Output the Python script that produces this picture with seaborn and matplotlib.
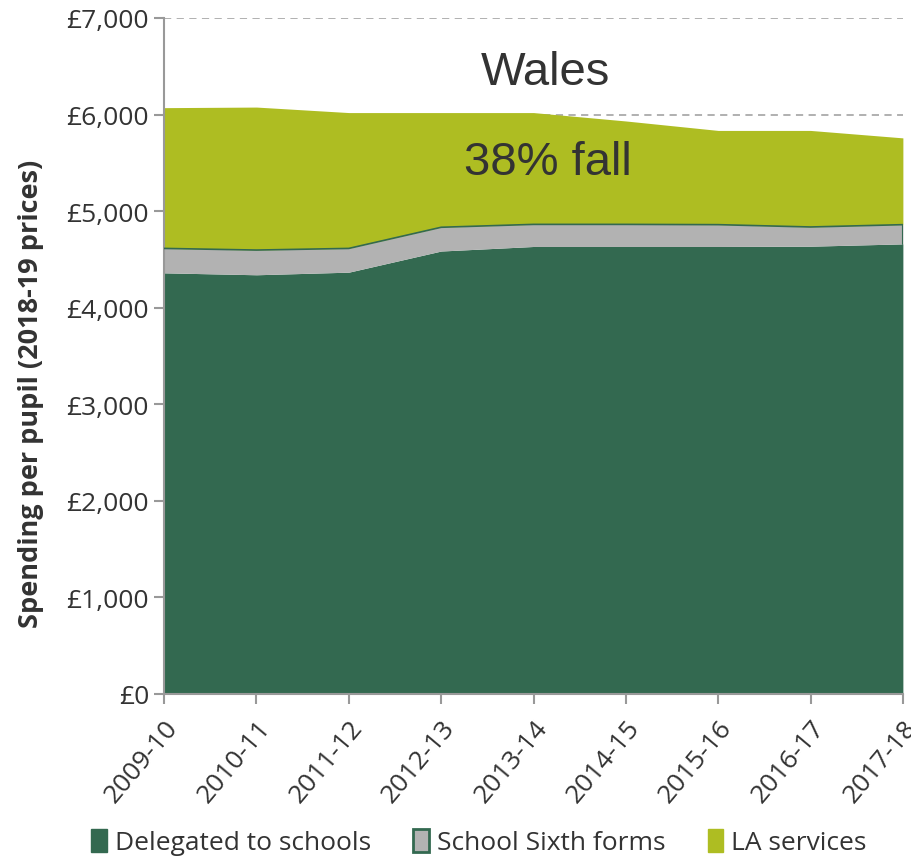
import numpy as np
import pandas as pd
import matplotlib
matplotlib.use("Agg")
import matplotlib.pyplot as plt
import seaborn as sns
from matplotlib.patches import Patch
from matplotlib.ticker import FuncFormatter

years = ["2009-10", "2010-11", "2011-12", "2012-13", "2013-14",
         "2014-15", "2015-16", "2016-17", "2017-18"]
delegated = [4360, 4340, 4367, 4586, 4633, 4633, 4633, 4636, 4660]
sixth_forms = [253, 256, 246, 246, 229, 229, 226, 199, 199]
la_services = [1458, 1481, 1407, 1188, 1158, 1071, 976, 1000, 899]

df = pd.DataFrame({"year": years, "Delegated to schools": delegated,
                   "School Sixth forms": sixth_forms, "LA services": la_services})

c_del = "#336950"
c_six = "#B2B2B2"
c_la = "#AEBD22"

sns.set_theme(style="white")
plt.rcParams["font.family"] = ["Open Sans", "DejaVu Sans"]

fig = plt.figure(figsize=(9.12, 8.62), dpi=100)
ax = fig.add_axes([0.18, 0.194, 0.81, 0.784])

x = np.arange(len(df))
ax.set_axisbelow(True)
ax.yaxis.grid(True, color="#AAAAAA", linestyle=(0, (4, 3)), linewidth=1.3)
ax.stackplot(x, df["Delegated to schools"], df["School Sixth forms"], df["LA services"],
             colors=[c_del, c_six, c_la], linewidth=0, zorder=2)

# thin dark edges on the sixth form band
base = df["Delegated to schools"] + df["School Sixth forms"]
sns.lineplot(x=x, y=base.values, ax=ax, color=c_del, linewidth=1.2, zorder=3)
ax.plot([x[-1], x[-1]], [df["Delegated to schools"].iloc[-1], base.iloc[-1]],
        color=c_del, linewidth=1.5, zorder=3)

ax.set_xlim(0, len(df) - 1)
ax.set_ylim(0, 7000)
ax.set_yticks(np.arange(0, 7001, 1000))
ax.yaxis.set_major_formatter(FuncFormatter(lambda v, p: "£{:,.0f}".format(v)))
ax.set_xticks(x)
ax.set_xticklabels(years, rotation=50, ha="right", rotation_mode="anchor")

for s in ["top", "right"]:
    ax.spines[s].set_visible(False)
for s in ["left", "bottom"]:
    ax.spines[s].set_color("#999999")
    ax.spines[s].set_linewidth(1.5)
ax.tick_params(axis="both", which="major", direction="out", length=7, width=1.5,
               color="#999999", labelsize=19, labelcolor="#333333", pad=4)
ax.tick_params(axis="x", pad=8)
ax.tick_params(left=True, bottom=True)

ax.set_ylabel("Spending per pupil (2018-19 prices)", fontsize=19.5, fontweight="bold",
              color="#333333")
ax.yaxis.set_label_coords(-0.163, 0.445)

ax.text(0.516, 0.92, "Wales", transform=ax.transAxes, ha="center", va="center",
        fontsize=34, color="#333333", family=["Liberation Sans", "DejaVu Sans"])
ax.text(0.52, 0.787, "38% fall", transform=ax.transAxes, ha="center", va="center",
        fontsize=34, color="#333333", family=["Liberation Sans", "DejaVu Sans"])

handles = [Patch(facecolor=c_del, edgecolor=c_del, label="Delegated to schools"),
           Patch(facecolor=c_six, edgecolor=c_del, linewidth=2, label="School Sixth forms"),
           Patch(facecolor=c_la, edgecolor=c_la, label="LA services")]
fig.legend(handles=handles, loc="center", bbox_to_anchor=(0.525, 0.022), ncol=3,
           frameon=False, fontsize=19, handlelength=0.6, handleheight=1.0,
           handletextpad=0.3, columnspacing=1.6, labelcolor="#333333")

fig.savefig("out.png", dpi=100)
